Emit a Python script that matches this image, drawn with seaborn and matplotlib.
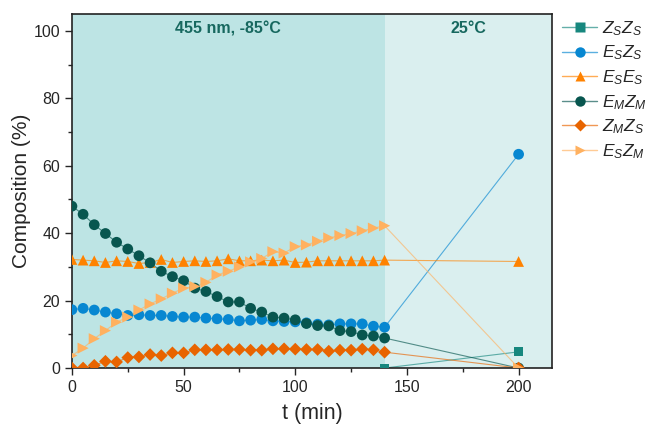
import pandas as pd
import seaborn as sns
import numpy as np
import matplotlib.pyplot as plt
from matplotlib.lines import Line2D

# time points (min): irradiation every 5 min up to 140, then warm-up point at 200
t_irr = list(range(0, 145, 5))

zszs_t = [140, 200]
zszs = [0.0, 4.8]

eszs = [17.3, 17.7, 17.2, 16.6, 16.1, 15.6, 15.8, 15.6, 15.6, 15.3,
        15.1, 15.1, 14.8, 14.6, 14.4, 14.0, 14.2, 14.4, 14.0, 13.8,
        13.7, 13.4, 13.0, 12.8, 13.1, 13.1, 13.1, 12.4, 12.1, 63.4]

eses = [32.2, 32.0, 31.8, 31.3, 31.8, 31.6, 31.0, 31.3, 32.2, 31.3,
        31.6, 31.8, 31.6, 31.8, 32.4, 31.8, 31.8, 32.0, 31.8, 32.0,
        31.3, 31.4, 31.8, 31.8, 31.8, 31.8, 31.8, 31.8, 32.0, 31.6]

emzm = [48.0, 45.6, 42.5, 39.9, 37.3, 35.3, 33.3, 31.2, 28.7, 27.1,
        25.9, 23.7, 22.7, 21.2, 19.6, 19.6, 17.7, 16.6, 15.1, 14.8,
        14.3, 13.2, 12.6, 12.5, 11.1, 10.8, 9.8, 9.5, 8.9, 0.0]

zmzs = [0.0, 0.0, 0.8, 2.0, 1.8, 3.1, 3.3, 4.0, 3.7, 4.5,
        4.5, 5.4, 5.4, 5.4, 5.5, 5.5, 5.3, 5.3, 5.7, 5.7,
        5.6, 5.5, 5.5, 5.0, 5.3, 5.3, 5.6, 5.4, 4.7, 0.0]

eszm = [3.7, 5.9, 8.7, 11.1, 13.6, 15.1, 17.2, 19.0, 20.5, 22.2,
        23.7, 24.2, 25.4, 27.6, 28.7, 30.0, 31.5, 32.5, 34.5, 34.1,
        36.0, 36.5, 37.6, 38.6, 39.3, 39.9, 40.7, 41.5, 42.2, 0.0]

t_all = t_irr + [200]

series = [
    ('$Z_SZ_S$', zszs_t, zszs, '#17877e', 's'),
    ('$E_SZ_S$', t_all, eszs, '#0787d1', 'o'),
    ('$E_SE_S$', t_all, eses, '#ff8200', '^'),
    ('$E_MZ_M$', t_all, emzm, '#08564f', 'o'),
    ('$Z_MZ_S$', t_all, zmzs, '#e86400', 'D'),
    ('$E_SZ_M$', t_all, eszm, '#ffb160', '>'),
]

sns.set_theme(style='ticks')
plt.rcParams['font.family'] = ['Liberation Sans', 'DejaVu Sans']
plt.rcParams['mathtext.fontset'] = 'custom'
plt.rcParams['mathtext.it'] = 'Liberation Sans:italic'
plt.rcParams['mathtext.rm'] = 'Liberation Sans'

fig = plt.figure(figsize=(6.48, 4.24), dpi=100)
ax = fig.add_axes([0.111, 0.132, 0.741, 0.835])

ax.axvspan(0, 140, color='#bde4e4', zorder=0, lw=0)
ax.axvspan(140, 215, color='#daefef', zorder=0, lw=0)

handles = []
msize = {'s': 42, 'o': 60, '^': 60, 'D': 42, '>': 64}
for name, tt, vals, col, mk in series:
    df = pd.DataFrame({'t': tt, 'v': vals})
    sns.lineplot(data=df, x='t', y='v', color=col, lw=0.8, alpha=0.65,
                 ax=ax, sort=False, zorder=2)
    sns.scatterplot(data=df, x='t', y='v', color=col, marker=mk, s=msize[mk],
                    edgecolor='none', ax=ax, zorder=3)
    # legend line drawn lighter than its marker, like the reference
    line_col = sns.blend_palette(['white', col], 10)[6]
    handles.append(Line2D([], [], color=line_col, lw=1.0, marker=mk,
                          markerfacecolor=col,
                          markersize=7.5 if mk != 'D' else 6,
                          markeredgecolor='none', label=name))

ax.set_xlim(0, 215)
ax.set_ylim(0, 105)
ax.set_xticks([0, 50, 100, 150, 200])
ax.set_xticks([25, 75, 125, 175], minor=True)
ax.set_yticks([0, 20, 40, 60, 80, 100])
ax.set_yticks([10, 30, 50, 70, 90], minor=True)
ax.tick_params(axis='both', which='major', labelsize=11.5, length=5, width=1, direction='out')
ax.tick_params(axis='both', which='minor', length=3, width=1, direction='out')
for sp in ax.spines.values():
    sp.set_linewidth(1.2)
    sp.set_color('#222222')
ax.set_xlabel('t (min)', fontsize=15.5, labelpad=6)
ax.set_ylabel('Composition (%)', fontsize=15, labelpad=2)

ax.text(70, 100.6, '455 nm, -85°C', ha='center', va='center', fontsize=11.5,
        fontweight='bold', color='#17685f')
ax.text(177.5, 100.6, '25°C', ha='center', va='center', fontsize=11.5,
        fontweight='bold', color='#17685f')

leg = fig.legend(handles=handles, loc='upper left', bbox_to_anchor=(0.868, 0.955),
                 frameon=False, fontsize=12.5, handlelength=2.0, labelspacing=0.34,
                 handletextpad=0.25, borderaxespad=0, borderpad=0)

fig.savefig('out.png', dpi=100)
